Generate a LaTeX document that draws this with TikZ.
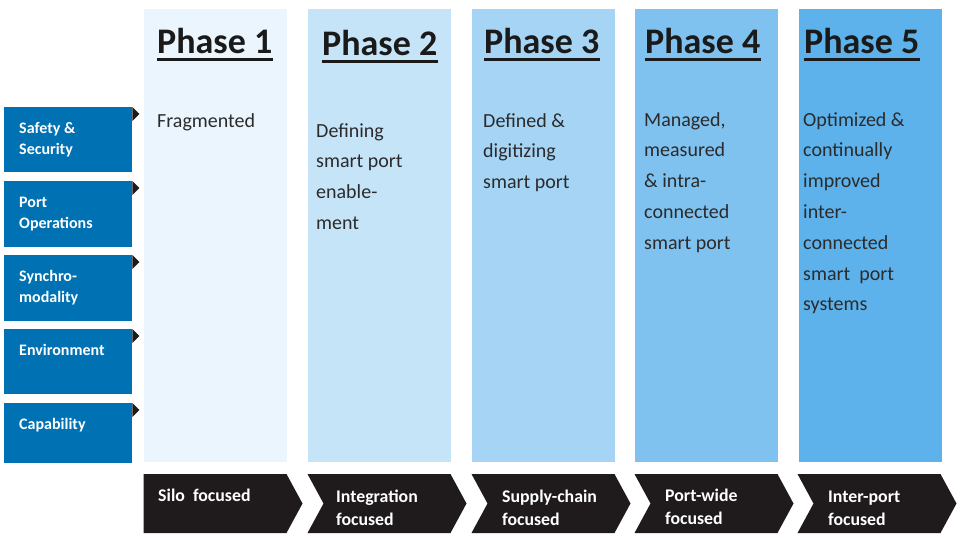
\documentclass[tikz,border=0pt]{standalone}
\usepackage{fontspec}
\setmainfont{Carlito}
\usetikzlibrary{shapes, positioning, calc}

\definecolor{phaseA}{HTML}{EBF5FD}
\definecolor{phaseB}{HTML}{C6E4F8}
\definecolor{phaseC}{HTML}{A5D4F5}
\definecolor{phaseD}{HTML}{7FC1EF}
\definecolor{phaseE}{HTML}{5DB2EC}
\definecolor{sideblue}{HTML}{0071B3}
\definecolor{chevblack}{HTML}{1F1B1C}
\definecolor{titlegray}{HTML}{1A1A1A}
\definecolor{bodygray}{HTML}{2B2B2B}

\begin{document}
\begin{tikzpicture}[x=1pt, y=-1pt]
  \newcommand\colwidth{143pt}
  \newcommand\colheight{453pt}
  \newcommand\sidewidth{128pt}

  \tikzset{phasecol/.style={fill=#1, inner sep=0pt, minimum width=\colwidth, minimum height=\colheight, anchor=north west}}
  \tikzset{phasetitle/.style={inner sep=0pt, anchor=base west, text=titlegray, font=\fontsize{36}{36}\selectfont\bfseries}}
  \tikzset{phasebody/.style={inner sep=0pt, anchor=base west, text=bodygray, font=\fontsize{20}{30.8}\selectfont}}
  \tikzset{sidebox/.style={fill=sideblue, inner sep=0pt, minimum width=\sidewidth, minimum height=#1, anchor=north west}}
  \tikzset{sidetext/.style={inner sep=0pt, anchor=base west, text=white, font=\fontsize{16}{21}\selectfont\bfseries}}
  \tikzset{chevron/.style={shape=signal, signal to=east, signal from=#1, signal pointer angle=123, fill=chevblack, inner sep=0pt, minimum width=159pt, minimum height=59pt}}
  \tikzset{chevtext/.style={inner sep=0pt, anchor=base west, text=white, font=\fontsize{17.8}{23.5}\selectfont\bfseries}}

  \useasboundingbox[fill=white] (0,0) rectangle (960,543);

  % phase columns
  \foreach \i/\colx/\titx/\tity/\bodyx/\bodyy/\colfill/\bodytext in {
      1/144/157/54/157/127/phaseA/{Fragmented},
      2/308/322/56/316/137/phaseB/{Defining\\smart port\\enable-\\ment},
      3/472/484/54/483/127/phaseC/{Defined \&\\digitizing\\smart port},
      4/635/645/54/644/126/phaseD/{Managed,\\measured\\\& intra-\\connected\\smart port},
      5/799/804/54/803/126/phaseE/{Optimized \&\\continually\\improved\\inter-\\connected\\smart\ \ port\\systems}}{
    \node[phasecol=\colfill] (ph\i) at (\colx,9) {};
    \node[phasetitle] (ph\i-t) at (\titx,\tity) {Phase \i};
    \draw[titlegray, line width=3pt] ($(ph\i-t.base west)+(0,5.5)$) -- ($(ph\i-t.base east)+(0,5.5)$);
    \node[phasebody] (ph\i-b) at (\bodyx,\bodyy) {\parbox[t]{135pt}{\raggedright\bodytext}};
  }

  % dimension boxes on the left
  \foreach \i/\sidey/\sideh/\sidelabel in {
      1/107/65pt/{Safety \&\\Security},
      2/181/66pt/{Port\\Operations},
      3/255/66pt/{Synchro-\\modality},
      4/329/65pt/{Environment},
      5/403/60pt/{Capability}}{
    \node[sidebox=\sideh] (side\i) at (4,\sidey) {};
    \node[sidetext] (side\i-l) at ($(side\i.north west)+(15,26)$) {\parbox[t]{110pt}{\raggedright\sidelabel}};
    \fill[chevblack] (side\i.north east) -- ++(7,7) -- ++(-7,7) -- cycle;
  }

  % chevrons at the bottom
  \foreach \i/\chevx/\chevfrom/\textx/\texty/\chevlabel in {
      1/215/nowhere/158/501/{Silo\ \ focused},
      2/387/west/336/502/{Integration\\focused},
      3/551/west/502/502/{Supply-chain\\focused},
      4/714/west/665/501/{Port-wide\\focused},
      5/877/west/828/502/{Inter-port\\focused}}{
    \node[chevron=\chevfrom] (chv\i) at (\chevx,503.5) {};
    \node[chevtext] (chv\i-l) at (\textx,\texty) {\parbox[t]{120pt}{\raggedright\chevlabel}};
  }
\end{tikzpicture}
\end{document}
